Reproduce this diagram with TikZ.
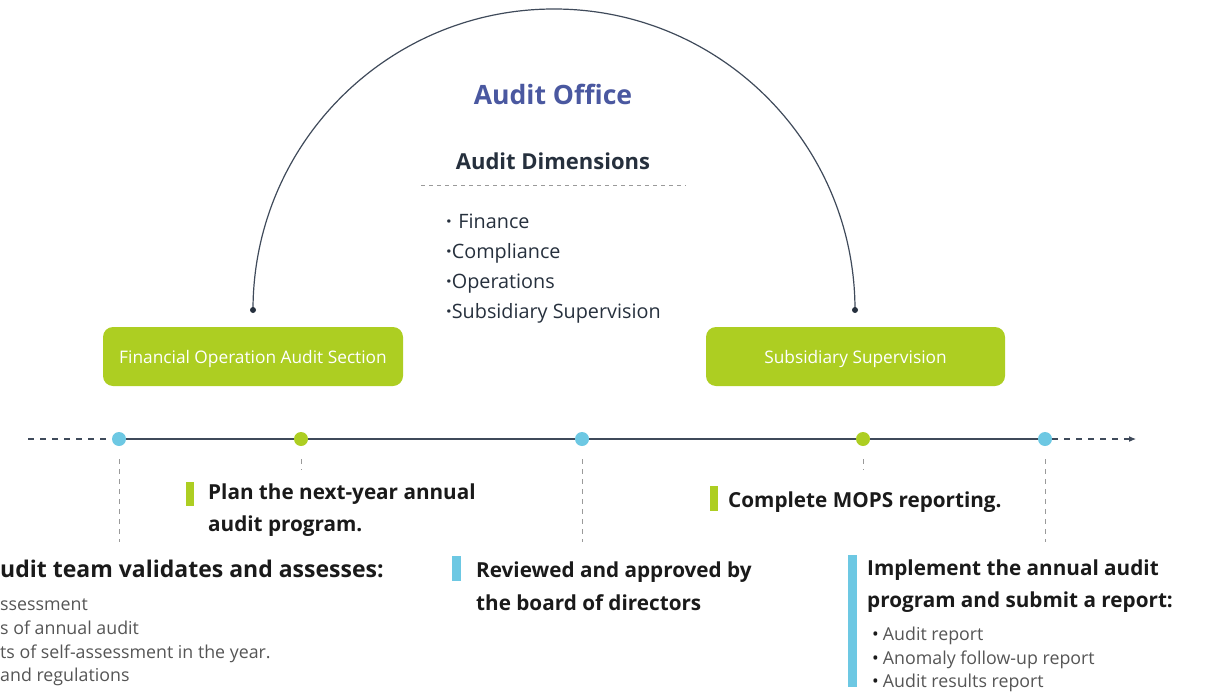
\documentclass[tikz,border=0pt]{standalone}
\usepackage{fontspec}
\setmainfont{Open Sans}
\usetikzlibrary{arrows.meta}
\definecolor{lime}{HTML}{ADCE22}
\definecolor{sky}{HTML}{6DC8E3}
\definecolor{linec}{HTML}{3F4A5A}
\definecolor{titlec}{HTML}{4A58A0}
\definecolor{darkc}{HTML}{26303D}
\definecolor{blackc}{HTML}{1A1A1A}
\definecolor{grayc}{HTML}{555555}
\definecolor{vgray}{HTML}{9A9A9A}
\begin{document}
\begin{tikzpicture}[x=1pt,y=-1pt,
  txt/.style={inner sep=0pt, anchor=base west},
  boldtxt/.style={txt, font=\fontsize{20.7}{24}\selectfont\bfseries, text=blackc},
  graytxt/.style={txt, font=\fontsize{17.8}{20}\selectfont, text=grayc},
  dimtxt/.style={txt, font=\fontsize{19.8}{22}\selectfont, text=darkc},
  gbox/.style={fill=lime, rounded corners=10pt, inner sep=0pt, minimum height=59pt},
  boxtxt/.style={inner sep=0pt, anchor=base, text=white, font=\fontsize{17.3}{20}\selectfont},
  gdot/.style={circle, fill=lime, inner sep=0pt, minimum size=14pt},
  bdot/.style={circle, fill=sky, inner sep=0pt, minimum size=14pt},
  enddot/.style={circle, fill=darkc, inner sep=0pt, minimum size=6pt},
  tline/.style={draw=linec, line width=1.3pt},
  tdash/.style={draw=linec, line width=1.1pt, dash pattern=on 6pt off 6pt},
  vdash/.style={draw=vgray, line width=0.9pt, dash pattern=on 5pt off 5pt},
  gbar/.style={fill=lime, inner sep=0pt, minimum width=8pt, anchor=north west},
  bbar/.style={fill=sky, inner sep=0pt, minimum width=9pt, anchor=north west}
]
\useasboundingbox (0,0) rectangle (1208,696);
\clip (0,0) rectangle (1208,696);

% arc
\coordinate (al) at (253,310);
\coordinate (ar) at (855,310);
\draw[draw=linec, line width=1.2pt] (al) arc[start angle=180, end angle=360, radius=301];
\node[enddot] (ald) at (al) {};
\node[enddot] (ard) at (ar) {};

% header texts
\node[inner sep=0pt, anchor=base, font=\fontsize{26.6}{30}\selectfont\bfseries, text=titlec] (office) at (553,104) {Audit Office};
\node[inner sep=0pt, anchor=base, font=\fontsize{22}{25}\selectfont\bfseries, text=darkc] (dims) at (553,169) {Audit Dimensions};
\coordinate (dl) at (421,185.5);
\coordinate (dr) at (686,185.5);
\draw[draw=vgray, line width=0.8pt, dash pattern=on 4pt off 4pt] (dl) -- (dr);
\node[dimtxt] (i1) at (446,228) {\textbf{·}\,\,Finance};
\node[dimtxt] (i2) at (446,258) {\textbf{·}Compliance};
\node[dimtxt] (i3) at (446,288) {\textbf{·}Operations};
\node[dimtxt] (i4) at (446,318) {\textbf{·}Subsidiary Supervision};

% green boxes
\node[gbox, minimum width=300pt] (fin) at (253,356.5) {};
\node[boxtxt] (fint) at (253,363) {Financial Operation Audit Section};
\node[gbox, minimum width=299pt] (sub) at (855.5,356.5) {};
\node[boxtxt] (subt) at (855.5,363) {Subsidiary Supervision};

% timeline
\coordinate (ls) at (28,439);
\coordinate (re) at (1136,439);
\node[bdot] (d1) at (119,439) {};
\node[gdot] (d2) at (301,439) {};
\node[bdot] (d3) at (582,439) {};
\node[gdot] (d4) at (863,439) {};
\node[bdot] (d5) at (1045,439) {};
\draw[tdash] (ls) -- (d1);
\draw[tline] (d1) -- (d2);
\draw[tline] (d2) -- (d3);
\draw[tline] (d3) -- (d4);
\draw[tline] (d4) -- (d5);
\draw[tdash, -{Latex[length=7pt,width=6pt]}] (d5) -- (re);

% vertical dashed drops
\coordinate (v1) at (119,542);
\coordinate (v2) at (301,470);
\coordinate (v3) at (582,542);
\coordinate (v4) at (863,470);
\coordinate (v5) at (1045,542);
\draw[vdash] ([yshift=-13pt]d1.south) -- (v1);
\draw[vdash] ([yshift=-13pt]d2.south) -- (v2);
\draw[vdash] ([yshift=-13pt]d3.south) -- (v3);
\draw[vdash] ([yshift=-13pt]d4.south) -- (v4);
\draw[vdash] ([yshift=-13pt]d5.south) -- (v5);

% plan
\node[gbar, minimum height=24pt] (pb) at (186,482) {};
\node[boldtxt] (p1) at (208,499) {Plan the next-year annual};
\node[boldtxt] (p2) at (208,531) {audit program.};

% MOPS
\node[gbar, minimum height=25pt] (mb) at (710,486) {};
\node[boldtxt] (m1) at (728,507) {Complete MOPS reporting.};

% left cut text
\node[txt, font=\fontsize{23}{28}\selectfont\bfseries, text=blackc] (a1) at (0,577) {udit team validates and assesses:};
\node[graytxt] (a2) at (0,610) {ssessment};
\node[graytxt] (a3) at (0,634) {s of annual audit};
\node[graytxt] (a4) at (0,658) {ts of self-assessment in the year.};
\node[graytxt] (a5) at (0,681) {and regulations};

% reviewed
\node[bbar, minimum height=25pt] (rb) at (452,556) {};
\node[boldtxt] (r1) at (476,577) {Reviewed and approved by};
\node[boldtxt] (r2) at (476,610) {the board of directors};

% implement
\node[bbar, minimum height=132pt] (ib) at (848,555) {};
\node[boldtxt] (m1b) at (867,575) {Implement the annual audit};
\node[boldtxt] (m2b) at (867,607) {program and submit a report:};
\node[graytxt] (b1) at (872,640) {\textcolor{blackc}{•}\hspace{4pt}Audit report};
\node[graytxt] (b2) at (872,664) {\textcolor{blackc}{•}\hspace{4pt}Anomaly follow-up report};
\node[graytxt] (b3) at (872,687) {\textcolor{blackc}{•}\hspace{4pt}Audit results report};
\end{tikzpicture}
\end{document}
